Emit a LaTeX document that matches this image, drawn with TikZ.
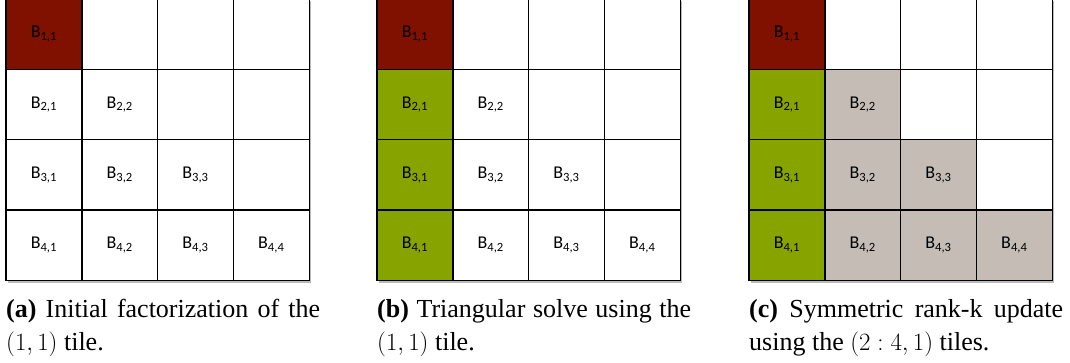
\documentclass[tikz,border=0pt]{standalone}
\usepackage{fontspec}
\setmainfont{Liberation Serif}
\newfontfamily\tilefont{Carlito}
\usetikzlibrary{positioning}
\definecolor{factred}{RGB}{128,16,0}
\definecolor{solvegreen}{RGB}{134,163,0}
\definecolor{updgray}{RGB}{196,188,181}
\definecolor{shadowgray}{HTML}{8C8C8C}

\begin{document}
\begin{tikzpicture}[x=1pt, y=-1pt,
    % 1. Celda base de la matriz por bloques
    tile/.style={
        draw=black, line width=1.4pt, fill=white,
        minimum width=75.8pt, minimum height=70.3pt, inner sep=0pt,
        font=\tilefont\fontsize{18}{18}\selectfont
    },
    % 2. Colores de cada paso de Cholesky
    potrf/.style={tile, fill=factred},
    trsm/.style={tile, fill=solvegreen},
    syrk/.style={tile, fill=updgray},
    % 3. Sombra bajo cada rejilla
    gridshadow/.style={fill=shadowgray, opacity=0.6},
    % 4. Leyendas de las subfiguras
    caption/.style={
        anchor=north west, inner sep=0pt, text width=314pt,
        align=justify, font=\fontsize{26}{33}\selectfont
    }
]
    \useasboundingbox (0,0) rectangle (1070,362);

    % --- REJILLAS ---
    \foreach \p/\x/\lvl in {a/6/1, b/377/2, c/749/3} {
        \fill[gridshadow] (\x+2, 1) rectangle (\x+303.2+2, 280.2+2.5);
        \foreach \i in {1,...,4} {
            \foreach \j in {1,...,4} {
                \def\kind{tile}
                \ifnum\i=1 \ifnum\j=1 \def\kind{potrf}\fi\fi
                \ifnum\lvl>1 \ifnum\j=1 \ifnum\i>1 \def\kind{trsm}\fi\fi\fi
                \ifnum\lvl>2 \ifnum\j>1 \ifnum\j>\i\else\def\kind{syrk}\fi\fi\fi
                \node[\kind] (\p\i\j) at ({\x+75.8*(\j-0.5)}, {-1+70.3*(\i-0.5)})
                    {\ifnum\j>\i\else B\textsubscript{\i,\j}\fi};
            }
        }
    }

    % --- LEYENDAS ---
    \node[caption] (capa) at (6, 299) {\textbf{(a)} Initial factorization of the\linebreak $(1,1)$ tile.};
    \node[caption] (capb) at (377, 299) {\textbf{(b)} Triangular solve using the\linebreak $(1,1)$ tile.};
    \node[caption] (capc) at (749, 299) {\textbf{(c)} Symmetric rank-k update\linebreak using the $(2:4,1)$ tiles.};

\end{tikzpicture}
\end{document}
